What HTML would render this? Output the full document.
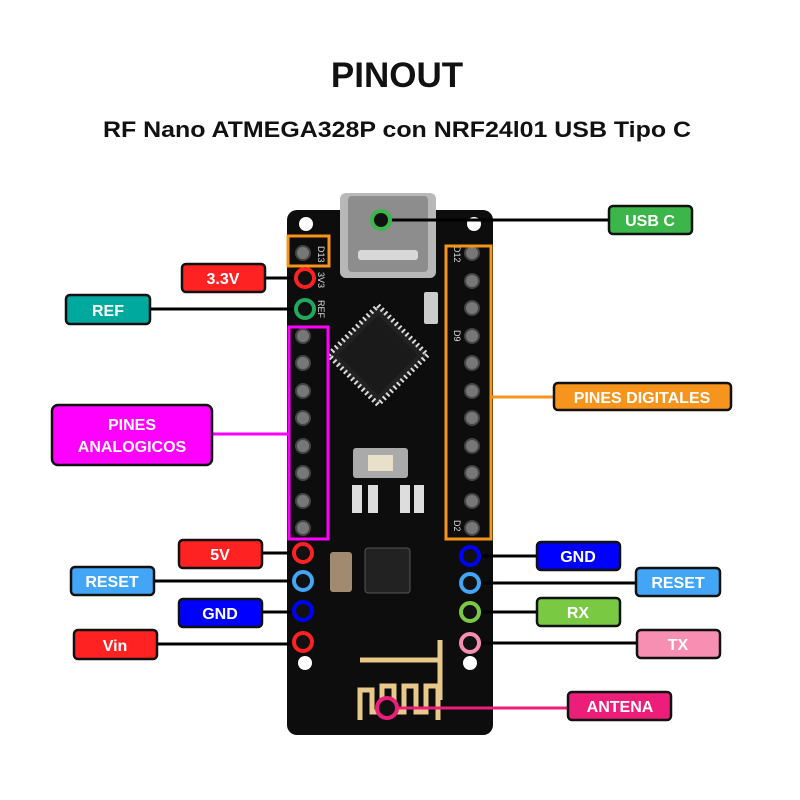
<!DOCTYPE html>
<html><head><style>body{margin:0;background:#fff}svg{display:block}</style></head><body>
<svg width="800" height="800" viewBox="0 0 800 800" xmlns="http://www.w3.org/2000/svg" font-family="Liberation Sans, sans-serif" font-weight="bold">
<rect width="800" height="800" fill="#fff"/>
<text x="397" y="87" font-size="35" text-anchor="middle" fill="#111">PINOUT</text>
<text x="397" y="137" font-size="22" text-anchor="middle" fill="#111" textLength="588" lengthAdjust="spacingAndGlyphs">RF Nano ATMEGA328P con NRF24l01 USB Tipo C</text>
<!-- board -->
<rect x="287" y="210" width="206" height="525" rx="10" fill="#0d0d0d"/>
<circle cx="306" cy="224" r="7" fill="#fff"/><circle cx="474" cy="224" r="7" fill="#fff"/>
<circle cx="305" cy="663" r="7" fill="#fff"/><circle cx="470" cy="663" r="7" fill="#fff"/>
<!-- usb -->
<rect x="340" y="193" width="96" height="85" rx="6" fill="#b8b8b8"/>
<rect x="348" y="196" width="80" height="76" rx="4" fill="#8d8d8d"/>
<rect x="358" y="250" width="60" height="10" rx="3" fill="#d8d8d8"/>
<!-- chip -->
<g transform="rotate(45 378 355)"><rect x="343" y="320" width="70" height="70" fill="#222" stroke="#ddd" stroke-width="5" stroke-dasharray="2 3"/><rect x="350" y="327" width="56" height="56" fill="#1a1a1a"/></g>
<rect x="424" y="292" width="14" height="32" rx="2" fill="#ccc"/>
<rect x="353" y="448" width="55" height="30" rx="3" fill="#aaa"/><rect x="368" y="455" width="25" height="16" fill="#e8e0c8"/>
<rect x="352" y="485" width="10" height="28" fill="#ddd"/><rect x="368" y="485" width="10" height="28" fill="#ddd"/>
<rect x="400" y="485" width="10" height="28" fill="#ddd"/><rect x="414" y="485" width="10" height="28" fill="#ddd"/>
<rect x="365" y="548" width="45" height="45" rx="3" fill="#222" stroke="#555"/>
<rect x="330" y="552" width="22" height="40" rx="3" fill="#a08a70"/>
<!-- antenna -->
<path d="M360 720 V690 H372 V712 H382 V686 H394 V712 H404 V686 H416 V712 H426 V686 H438 V720 M440 700 V640 M360 660 H440" fill="none" stroke="#e8c98a" stroke-width="5"/>
<!-- pins -->
<g fill="#777" stroke="#444" stroke-width="2">
<circle cx="303" cy="253" r="7"/>
<circle cx="303" cy="336" r="7"/><circle cx="303" cy="363" r="7"/><circle cx="303" cy="391" r="7"/><circle cx="303" cy="418" r="7"/><circle cx="303" cy="446" r="7"/><circle cx="303" cy="473" r="7"/><circle cx="303" cy="501" r="7"/><circle cx="303" cy="528" r="7"/>
<circle cx="472" cy="253" r="7"/><circle cx="472" cy="281" r="7"/><circle cx="472" cy="308" r="7"/><circle cx="472" cy="336" r="7"/><circle cx="472" cy="363" r="7"/><circle cx="472" cy="391" r="7"/><circle cx="472" cy="418" r="7"/><circle cx="472" cy="446" r="7"/><circle cx="472" cy="473" r="7"/><circle cx="472" cy="501" r="7"/><circle cx="472" cy="528" r="7"/>
</g>
<g font-size="9" fill="#ddd" font-weight="normal">
<text transform="translate(318 246) rotate(90)">D13</text><text transform="translate(318 272) rotate(90)">3V3</text><text transform="translate(318 300) rotate(90)">REF</text>
<text transform="translate(454 246) rotate(90)">D12</text><text transform="translate(454 330) rotate(90)">D9</text><text transform="translate(454 520) rotate(90)">D2</text>
</g>
<!-- boxes -->
<rect x="288" y="236" width="41" height="30" fill="none" stroke="#f7941d" stroke-width="3"/>
<rect x="289" y="327" width="39" height="212" fill="none" stroke="#f0f" stroke-width="3"/>
<rect x="446" y="246" width="45" height="293" fill="none" stroke="#f7941d" stroke-width="3"/>
<!-- lines -->
<g stroke="#000" stroke-width="3">
<line x1="381" y1="220" x2="609" y2="220"/>
<line x1="265" y1="278" x2="303" y2="278"/><line x1="150" y1="309" x2="303" y2="309"/>
<line x1="262" y1="553" x2="303" y2="553"/><line x1="154" y1="581" x2="303" y2="581"/>
<line x1="262" y1="612" x2="303" y2="612"/><line x1="157" y1="644" x2="303" y2="644"/>
<line x1="472" y1="556" x2="537" y2="556"/><line x1="472" y1="583" x2="636" y2="583"/>
<line x1="472" y1="612" x2="537" y2="612"/><line x1="472" y1="643" x2="637" y2="643"/>
</g>
<line x1="212" y1="434" x2="290" y2="434" stroke="#f0f" stroke-width="3"/>
<line x1="491" y1="397" x2="554" y2="397" stroke="#f7941d" stroke-width="3"/>
<line x1="387" y1="708" x2="568" y2="708" stroke="#ed1e79" stroke-width="3"/>
<!-- rings -->
<g fill="#111" stroke-width="4">
<circle cx="381" cy="220" r="9" stroke="#3cb54a"/>
<circle cx="305" cy="278" r="9" stroke="#f22"/><circle cx="305" cy="309" r="9" stroke="#1faa60"/>
<circle cx="303" cy="553" r="9" stroke="#f22"/><circle cx="303" cy="581" r="9" stroke="#42a5f5"/>
<circle cx="303" cy="611" r="9" stroke="#00f"/><circle cx="303" cy="642" r="9" stroke="#f22"/>
<circle cx="470" cy="556" r="9" stroke="#00f"/><circle cx="470" cy="583" r="9" stroke="#42a5f5"/>
<circle cx="470" cy="612" r="9" stroke="#7ac943"/><circle cx="470" cy="643" r="9" stroke="#f78fb3"/>
<circle cx="387" cy="708" r="10" stroke="#ed1e79"/>
</g>
<!-- labels -->
<g stroke="#111" stroke-width="2.5">
<rect x="609" y="206" width="83" height="28" rx="4" fill="#3cb54a"/>
<rect x="182" y="264" width="83" height="28" rx="4" fill="#f22"/>
<rect x="66" y="295" width="84" height="29" rx="4" fill="#00a99d"/>
<rect x="52" y="405" width="160" height="60" rx="6" fill="#f0f"/>
<rect x="554" y="383" width="177" height="27" rx="4" fill="#f7941d"/>
<rect x="179" y="540" width="83" height="28" rx="4" fill="#f22"/>
<rect x="71" y="567" width="83" height="28" rx="4" fill="#42a5f5"/>
<rect x="179" y="599" width="83" height="28" rx="4" fill="#00f"/>
<rect x="74" y="630" width="83" height="29" rx="4" fill="#f22"/>
<rect x="537" y="542" width="83" height="28" rx="4" fill="#00f"/>
<rect x="636" y="568" width="84" height="28" rx="4" fill="#42a5f5"/>
<rect x="537" y="598" width="83" height="28" rx="4" fill="#7ac943"/>
<rect x="637" y="630" width="83" height="28" rx="4" fill="#f78fb3"/>
<rect x="568" y="692" width="103" height="28" rx="4" fill="#ed1e79"/>
</g>
<g fill="#fff" font-size="16" text-anchor="middle">
<text x="650" y="226">USB C</text>
<text x="223" y="284">3.3V</text>
<text x="108" y="316">REF</text>
<text x="132" y="430">PINES</text><text x="132" y="452">ANALOGICOS</text>
<text x="642" y="403">PINES DIGITALES</text>
<text x="220" y="560">5V</text>
<text x="112" y="587">RESET</text>
<text x="220" y="619">GND</text>
<text x="115" y="651">Vin</text>
<text x="578" y="562">GND</text>
<text x="678" y="588">RESET</text>
<text x="578" y="618">RX</text>
<text x="678" y="650">TX</text>
<text x="620" y="712">ANTENA</text>
</g>
</svg>
</body></html>
